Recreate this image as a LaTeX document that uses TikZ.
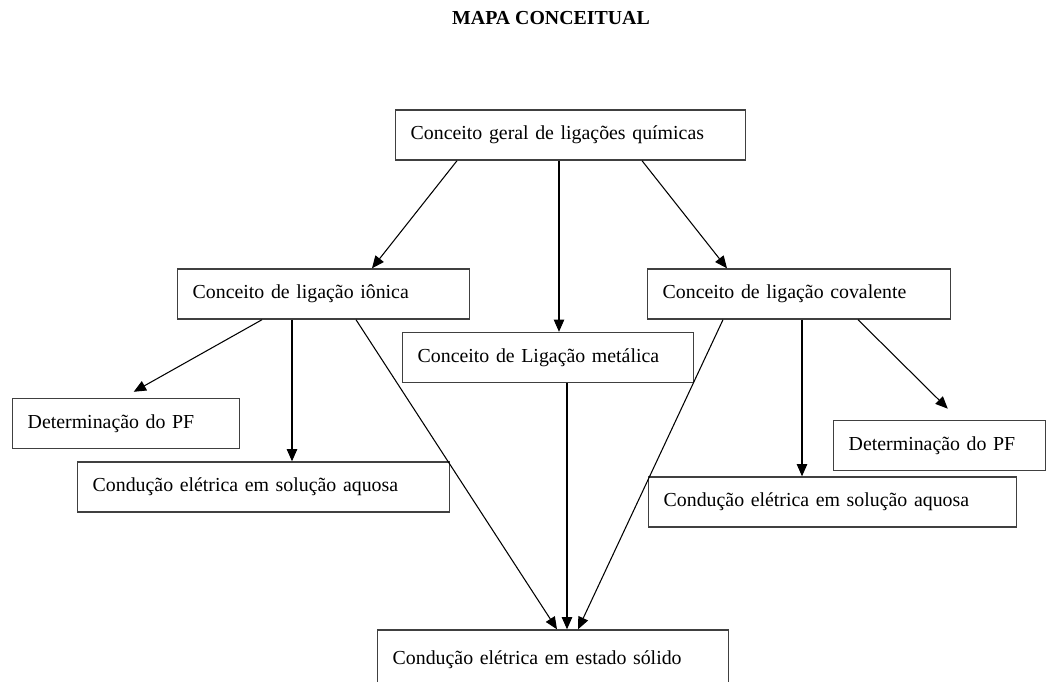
\documentclass[tikz,border=0pt]{standalone}
\usepackage{fontspec}
\setmainfont{Liberation Serif}
\usetikzlibrary{arrows.meta}
\begin{document}
\begin{tikzpicture}[x=0.02cm,y=-0.02cm,
  caixa/.style={draw=black!75,line width=0.8pt,anchor=west,text width=#1,align=left,
    inner xsep=0.3cm,minimum height=1cm,font=\fontsize{11.3}{13.6}\selectfont},
  seta/.style={-{Triangle[length=7pt,width=6pt]},line width=0.6pt}]
\useasboundingbox (0,0) rectangle (1047,681);
\node[font=\fontsize{11.3}{13.6}\selectfont\bfseries] (titulo) at (551,18) {MAPA CONCEITUAL};
% caixas
\node[caixa=6.4cm] (geral) at (395,135) {Conceito geral de ligações químicas};
\node[caixa=5.24cm] (ion) at (177,294) {Conceito de ligação iônica};
\node[caixa=5.22cm] (met) at (402,357.5) {Conceito de Ligação metálica};
\node[caixa=5.46cm] (cov) at (647,294) {Conceito de ligação covalente};
\node[caixa=3.94cm] (pfe) at (12,423.5) {Determinação do PF};
\node[caixa=6.84cm] (aqe) at (77,487) {Condução elétrica em solução aquosa};
\node[caixa=3.64cm] (pfd) at (833,445.5) {Determinação do PF};
\node[caixa=6.76cm] (aqd) at (648,502) {Condução elétrica em solução aquosa};
\node[caixa=6.42cm,minimum height=1.2cm] (sol) at (377,660) {Condução elétrica em estado sólido\\[7pt]};
% setas
\draw[seta] (geral.south -| 457,0) -- (ion.north -| 372,0);
\draw[seta] (geral.south -| 559,0) -- (met.north -| 559,0);
\draw[seta] (geral.south -| 642,0) -- (cov.north -| 727,0);
\draw[seta,shorten >=7pt] (ion.south -| 262,0) -- (pfe.north -| 123,0);
\draw[seta] (ion.south -| 292,0) -- (aqe.north -| 292,0);
\draw[seta] (ion.south -| 356,0) -- (sol.north -| 557,0);
\draw[seta] (met.south -| 567,0) -- (sol.north -| 567,0);
\draw[seta] (cov.south -| 723,0) -- (sol.north -| 578,0);
\draw[seta] (cov.south -| 802,0) -- (aqd.north -| 802,0);
\draw[seta,shorten >=9pt] (cov.south -| 858,0) -- (pfd.north -| 959,0);
\end{tikzpicture}
\end{document}
